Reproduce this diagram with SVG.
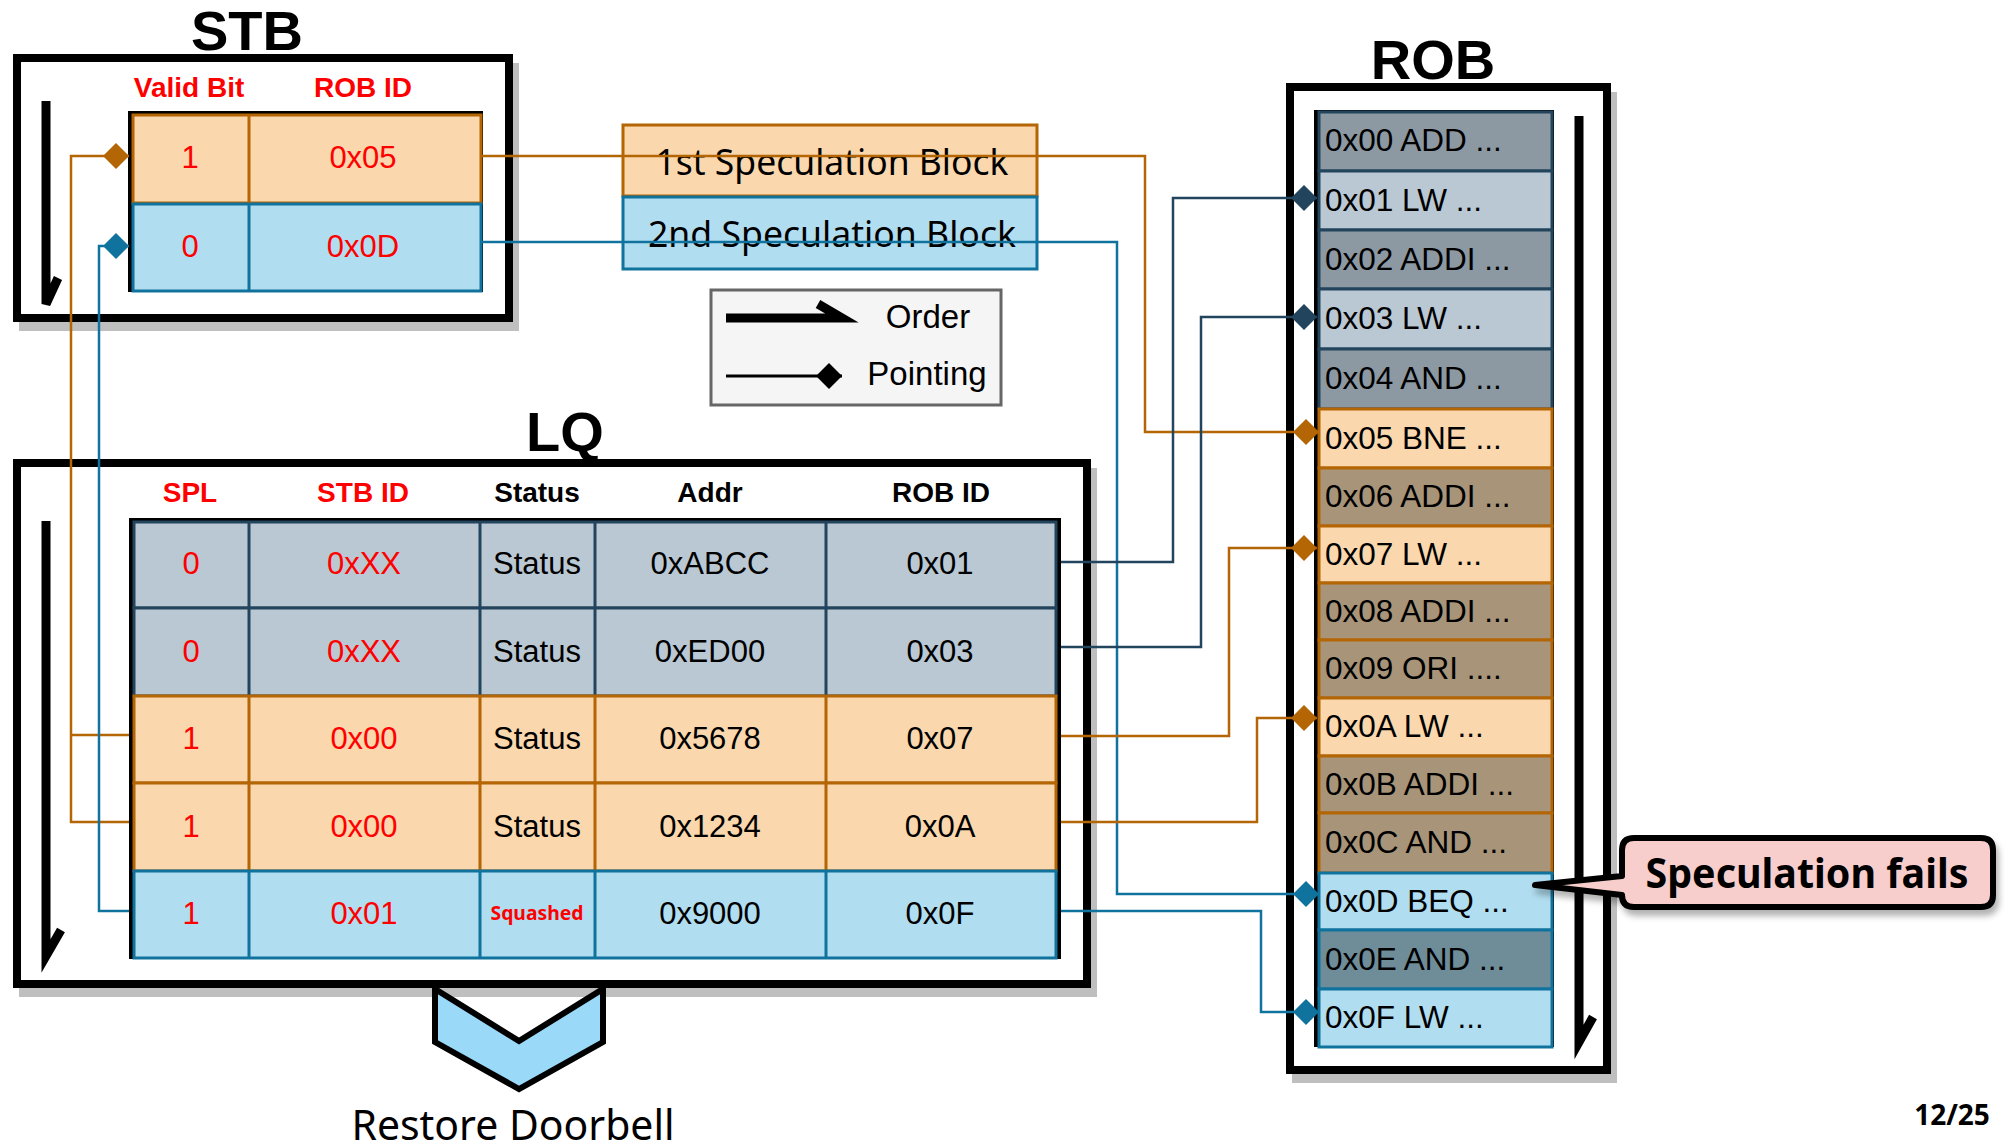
<svg xmlns="http://www.w3.org/2000/svg" width="2005" height="1148" viewBox="0 0 2005 1148">
<style>
  text { font-family: "Liberation Sans", Arial, sans-serif; }
  .title { font-size: 56px; font-weight: bold; text-anchor: middle; fill: #000; }
  .hdr { font-size: 28px; font-weight: bold; text-anchor: middle; fill: #000; }
  .cell { font-size: 31px; text-anchor: middle; fill: #000; }
  .rob { font-size: 31.5px; fill: #000; }
  .sans { font-family: "Noto Sans", "Open Sans", sans-serif; }
  text.red { fill: #ff0000; }
  .frame { fill: #fff; stroke: #000; stroke-width: 8; }
  .shadow { fill: #bfbfbf; }
  .back { fill: #000; }
  .order { fill: none; stroke: #000; stroke-width: 9; stroke-linejoin: miter; stroke-linecap: butt; }
  .or { fill: #fad7ac; stroke: #b46504; stroke-width: 3; }
  .bl { fill: #b1ddf0; stroke: #10739e; stroke-width: 3; }
  .gb { fill: #bac8d3; stroke: #23445d; stroke-width: 3; }
  .gd { fill: #8d99a2; stroke: #23445d; stroke-width: 3; }
  .br { fill: #a89479; stroke: #b46504; stroke-width: 3; }
  .td { fill: #6f8d99; stroke: #10739e; stroke-width: 3; }
  .l-or { stroke: #b46504; stroke-width: 3; }
  .l-bl { stroke: #10739e; stroke-width: 3; }
  .l-gb { stroke: #23445d; stroke-width: 3; }
  .c-or { fill: none; stroke: #b46504; stroke-width: 2.5; }
  .c-bl { fill: none; stroke: #10739e; stroke-width: 2.5; }
  .c-nv { fill: none; stroke: #23445d; stroke-width: 2.5; }
</style>
<defs>
  <marker id="dia-or" markerUnits="userSpaceOnUse" markerWidth="26" markerHeight="26" refX="24" refY="12" orient="auto" viewBox="0 0 24 24">
    <path d="M0,12 L12,0 L24,12 L12,24 Z" fill="#b46504"/>
  </marker>
  <marker id="dia-bl" markerUnits="userSpaceOnUse" markerWidth="26" markerHeight="26" refX="24" refY="12" orient="auto" viewBox="0 0 24 24">
    <path d="M0,12 L12,0 L24,12 L12,24 Z" fill="#10739e"/>
  </marker>
  <marker id="dia-nv" markerUnits="userSpaceOnUse" markerWidth="26" markerHeight="26" refX="24" refY="12" orient="auto" viewBox="0 0 24 24">
    <path d="M0,12 L12,0 L24,12 L12,24 Z" fill="#23445d"/>
  </marker>
  <marker id="dia-k" markerUnits="userSpaceOnUse" markerWidth="26" markerHeight="26" refX="24" refY="12" orient="auto" viewBox="0 0 24 24">
    <path d="M0,12 L12,0 L24,12 L12,24 Z" fill="#000"/>
  </marker>
  <filter id="soft" x="-10%" y="-20%" width="130%" height="160%">
    <feDropShadow dx="3" dy="6" stdDeviation="3" flood-color="#000" flood-opacity="0.3"/>
  </filter>
</defs>

<!-- Store buffer -->
<g id="stb">
  <rect class="shadow" x="19" y="63" width="500" height="268"/>
  <rect class="frame" x="17" y="58" width="492" height="260"/>
  <text class="title" x="247" y="50">STB</text>
  <text class="hdr red" x="189" y="97">Valid Bit</text>
  <text class="hdr red" x="363" y="97">ROB ID</text>
  <polyline class="order" points="46,101 46,304 58,278"/>
  <rect class="back" x="128" y="111" width="355" height="181"/>
  <rect class="or" x="133" y="115" width="348" height="88"/>
  <line class="l-or" x1="249" y1="115" x2="249" y2="203"/>
  <rect class="bl" x="133" y="204" width="348" height="87"/>
  <line class="l-bl" x1="249" y1="204" x2="249" y2="291"/>
  <text class="cell red" x="190" y="168">1</text>
  <text class="cell red" x="363" y="168">0x05</text>
  <text class="cell red" x="190" y="257">0</text>
  <text class="cell red" x="363" y="257">0x0D</text>
</g>

<!-- Speculation blocks -->
<g id="spec1">
  <rect class="or" x="623" y="125" width="414" height="71"/>
  <text class="sans" x="832" y="175" font-size="37" text-anchor="middle" textLength="353" lengthAdjust="spacingAndGlyphs">1st Speculation Block</text>
</g>
<g id="spec2">
  <rect class="bl" x="623" y="197" width="414" height="72"/>
  <text class="sans" x="832" y="247" font-size="37" text-anchor="middle" textLength="368" lengthAdjust="spacingAndGlyphs">2nd Speculation Block</text>
</g>

<!-- Legend -->
<g id="legend">
  <rect x="711" y="290" width="290" height="115" fill="#f5f5f5" stroke="#666" stroke-width="3"/>
  <polyline class="order" points="726,318 842,318 818,304" stroke-width="10"/>
  <line x1="726" y1="376" x2="842" y2="376" stroke="#000" stroke-width="3" marker-end="url(#dia-k)"/>
  <text x="928" y="328" font-size="33" text-anchor="middle">Order</text>
  <text x="927" y="385" font-size="33" text-anchor="middle">Pointing</text>
</g>

<!-- Load queue -->
<g id="lq">
  <rect class="shadow" x="19" y="468" width="1078" height="529"/>
  <rect class="frame" x="17" y="463" width="1070" height="521"/>
  <text class="title" x="565" y="451">LQ</text>
  <text class="hdr red" x="190" y="502">SPL</text>
  <text class="hdr red" x="363" y="502">STB ID</text>
  <text class="hdr" x="537" y="502">Status</text>
  <text class="hdr" x="710" y="502">Addr</text>
  <text class="hdr" x="941" y="502">ROB ID</text>
  <polyline class="order" points="46,521 46,956 61,930"/>
  <rect class="back" x="129" y="518" width="932" height="441"/>

  <rect class="gb" x="134" y="522" width="922" height="86"/>
  <path class="l-gb" d="M249,522V608M480,522V608M595,522V608M826,522V608"/>
  <rect class="gb" x="134" y="608" width="922" height="88"/>
  <path class="l-gb" d="M249,608V696M480,608V696M595,608V696M826,608V696"/>
  <rect class="or" x="134" y="696" width="922" height="87"/>
  <path class="l-or" d="M249,696V783M480,696V783M595,696V783M826,696V783"/>
  <rect class="or" x="134" y="783" width="922" height="88"/>
  <path class="l-or" d="M249,783V871M480,783V871M595,783V871M826,783V871"/>
  <rect class="bl" x="134" y="871" width="922" height="87"/>
  <path class="l-bl" d="M249,871V958M480,871V958M595,871V958M826,871V958"/>

  <text class="cell red" x="191" y="574">0</text>
  <text class="cell red" x="364" y="574">0xXX</text>
  <text class="cell" x="537" y="574">Status</text>
  <text class="cell" x="710" y="574">0xABCC</text>
  <text class="cell" x="940" y="574">0x01</text>

  <text class="cell red" x="191" y="662">0</text>
  <text class="cell red" x="364" y="662">0xXX</text>
  <text class="cell" x="537" y="662">Status</text>
  <text class="cell" x="710" y="662">0xED00</text>
  <text class="cell" x="940" y="662">0x03</text>

  <text class="cell red" x="191" y="749">1</text>
  <text class="cell red" x="364" y="749">0x00</text>
  <text class="cell" x="537" y="749">Status</text>
  <text class="cell" x="710" y="749">0x5678</text>
  <text class="cell" x="940" y="749">0x07</text>

  <text class="cell red" x="191" y="837">1</text>
  <text class="cell red" x="364" y="837">0x00</text>
  <text class="cell" x="537" y="837">Status</text>
  <text class="cell" x="710" y="837">0x1234</text>
  <text class="cell" x="940" y="837">0x0A</text>

  <text class="cell red" x="191" y="924">1</text>
  <text class="cell red" x="364" y="924">0x01</text>
  <text class="sans red" x="537" y="920" font-size="19" font-weight="bold" text-anchor="middle" textLength="93" lengthAdjust="spacingAndGlyphs">Squashed</text>
  <text class="cell" x="710" y="924">0x9000</text>
  <text class="cell" x="940" y="924">0x0F</text>
</g>

<!-- Restore doorbell chevron -->
<g id="doorbell">
  <polygon points="435,989 519,1041 603,989 603,1042 519,1089 435,1042" fill="#9ad9f8" stroke="#000" stroke-width="6" stroke-linejoin="miter"/>
  <text class="sans" x="513" y="1140" font-size="41" text-anchor="middle" textLength="323" lengthAdjust="spacingAndGlyphs">Restore Doorbell</text>
</g>

<!-- Reorder buffer -->
<g id="rob">
  <rect class="shadow" x="1292" y="92" width="325" height="991"/>
  <rect class="frame" x="1290" y="87" width="317" height="983"/>
  <text class="title" x="1433" y="79">ROB</text>
  <polyline class="order" points="1579,116 1579,1042 1593,1017"/>
  <rect class="back" x="1314" y="110" width="240" height="937"/>
  <rect class="gd" x="1319" y="112" width="233" height="59"/>
  <rect class="gb" x="1319" y="171" width="233" height="59"/>
  <rect class="gd" x="1319" y="230" width="233" height="59"/>
  <rect class="gb" x="1319" y="289" width="233" height="60"/>
  <rect class="gd" x="1319" y="349" width="233" height="60"/>
  <rect class="or" x="1319" y="409" width="233" height="59"/>
  <rect class="br" x="1319" y="468" width="233" height="58"/>
  <rect class="or" x="1319" y="526" width="233" height="57"/>
  <rect class="br" x="1319" y="583" width="233" height="57"/>
  <rect class="br" x="1319" y="640" width="233" height="58"/>
  <rect class="or" x="1319" y="698" width="233" height="58"/>
  <rect class="br" x="1319" y="756" width="233" height="57"/>
  <rect class="br" x="1319" y="813" width="233" height="60"/>
  <rect class="bl" x="1319" y="873" width="233" height="57"/>
  <rect class="td" x="1319" y="930" width="233" height="59"/>
  <rect class="bl" x="1319" y="989" width="233" height="58"/>
  <text class="rob" x="1325" y="151">0x00 ADD ...</text>
  <text class="rob" x="1325" y="211">0x01 LW ...</text>
  <text class="rob" x="1325" y="270">0x02 ADDI ...</text>
  <text class="rob" x="1325" y="329">0x03 LW ...</text>
  <text class="rob" x="1325" y="389">0x04 AND ...</text>
  <text class="rob" x="1325" y="449">0x05 BNE ...</text>
  <text class="rob" x="1325" y="507">0x06 ADDI ...</text>
  <text class="rob" x="1325" y="565">0x07 LW ...</text>
  <text class="rob" x="1325" y="622">0x08 ADDI ...</text>
  <text class="rob" x="1325" y="679">0x09 ORI ....</text>
  <text class="rob" x="1325" y="737">0x0A LW ...</text>
  <text class="rob" x="1325" y="795">0x0B ADDI ...</text>
  <text class="rob" x="1325" y="853">0x0C AND ...</text>
  <text class="rob" x="1325" y="912">0x0D BEQ ...</text>
  <text class="rob" x="1325" y="970">0x0E AND ...</text>
  <text class="rob" x="1325" y="1028">0x0F LW ...</text>
</g>

<!-- Pointers between queues -->
<g id="connectors">
  <path class="c-or" d="M481,156 H1145 V432 H1319" marker-end="url(#dia-or)"/>
  <path class="c-bl" d="M481,242 H1117 V894 H1319" marker-end="url(#dia-bl)"/>
  <path class="c-nv" d="M1061,562 H1173 V198 H1317" marker-end="url(#dia-nv)"/>
  <path class="c-nv" d="M1061,647 H1201 V317 H1317" marker-end="url(#dia-nv)"/>
  <path class="c-or" d="M1061,736 H1229 V548 H1317" marker-end="url(#dia-or)"/>
  <path class="c-or" d="M1061,822 H1257 V718 H1317" marker-end="url(#dia-or)"/>
  <path class="c-bl" d="M1061,911 H1261 V1012 H1319" marker-end="url(#dia-bl)"/>
  <path class="c-or" d="M129,822 H71 V156 H129" marker-end="url(#dia-or)"/>
  <path class="c-or" d="M129,735 H71"/>
  <path class="c-bl" d="M129,911 H99 V246 H129" marker-end="url(#dia-bl)"/>
</g>

<!-- Failure callout -->
<g id="callout">
  <path d="M1634,838 H1981 Q1993,838 1993,850 V895 Q1993,907 1981,907 H1634 Q1622,907 1622,895 V895 L1535,885 L1622,876 V850 Q1622,838 1634,838 Z" fill="#f8cecc" stroke="#000" stroke-width="6" stroke-linejoin="round" filter="url(#soft)"/>
  <text class="sans" x="1807" y="888" font-size="41" font-weight="bold" text-anchor="middle" textLength="323" lengthAdjust="spacingAndGlyphs">Speculation fails</text>
</g>

<g id="page">
  <text class="sans" x="1952" y="1125" font-size="28" font-weight="bold" text-anchor="middle">12/25</text>
</g>
</svg>
